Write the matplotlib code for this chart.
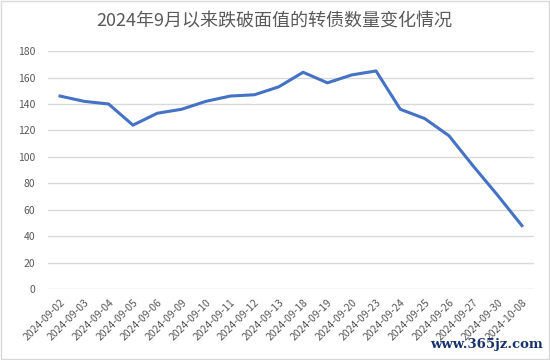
import matplotlib
matplotlib.use('Agg')
import matplotlib.pyplot as plt
from matplotlib.patches import Rectangle

plt.rcParams['font.family'] = ['Noto Sans CJK SC', 'DejaVu Sans']

dates = ['2024-09-02', '2024-09-03', '2024-09-04', '2024-09-05', '2024-09-06',
         '2024-09-09', '2024-09-10', '2024-09-11', '2024-09-12', '2024-09-13',
         '2024-09-18', '2024-09-19', '2024-09-20', '2024-09-23', '2024-09-24',
         '2024-09-25', '2024-09-26', '2024-09-27', '2024-09-30', '2024-10-08']
counts = [146, 142, 140, 124, 133, 136, 142, 146, 147, 153,
          164, 156, 162, 165, 136, 129, 116, 93, 71, 48]
yticks = list(range(0, 181, 20))

fig = plt.figure(figsize=(5.5, 3.6), dpi=100)
ax = fig.add_axes([0.087, 0.197, 0.884, 0.661])

xs = list(range(len(dates)))
ax.plot(xs, counts, color='#4472c4', lw=2.2, solid_joinstyle='round')
ax.set_xlim(-0.5, len(dates) - 0.5)
ax.set_ylim(0, 180)
ax.set_yticks(yticks)
ax.set_xticks(xs)
ax.set_xticklabels(dates, rotation=45, ha='right', rotation_mode='anchor')
ax.tick_params(length=0, labelsize=7.5, labelcolor='#595959')
ax.tick_params(axis='x', pad=6)
ax.tick_params(axis='y', pad=9)
ax.grid(axis='y', color='#d9d9d9', lw=1)
ax.set_axisbelow(True)
for s in ax.spines.values():
    s.set_visible(False)

fig.text(0.498, 0.94, '2024年9月以来跌破面值的转债数量变化情况', ha='center', va='center',
         fontsize=13, color='#595959')

# watermark
fig.text(0.987, 0.042, 'www.365jz.com', ha='right', va='center', fontsize=9.5,
         family='DejaVu Serif', weight='bold', color='#17336b')

# outer border
fig.patches.append(Rectangle((0.002, 0.003), 0.996, 0.994, transform=fig.transFigure,
                             fill=False, edgecolor='#d9d9d9', lw=1))

fig.savefig('out.png', dpi=100)
plt.close(fig)
